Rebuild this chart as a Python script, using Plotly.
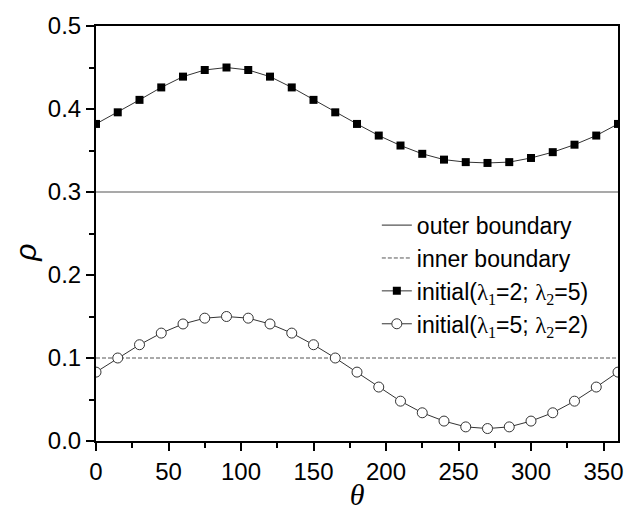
import plotly.graph_objects as go

theta = list(range(0, 361, 15))
p_init_25 = [0.382, 0.396, 0.411, 0.426, 0.439, 0.447, 0.450, 0.447, 0.439, 0.426, 0.411, 0.396, 0.382,
             0.368, 0.356, 0.346, 0.339, 0.336, 0.335, 0.336, 0.341, 0.348, 0.357, 0.368, 0.382]
p_init_52 = [0.083, 0.100, 0.116, 0.130, 0.141, 0.148, 0.150, 0.148, 0.141, 0.130, 0.116, 0.100, 0.083,
             0.065, 0.048, 0.034, 0.024, 0.017, 0.015, 0.017, 0.024, 0.034, 0.048, 0.065, 0.083]
boundary_x = [0, 360]
outer_p = [0.3, 0.3]
inner_p = [0.1, 0.1]
x_ticks = list(range(0, 351, 50))
y_ticks = [0, 0.1, 0.2, 0.3, 0.4, 0.5]
y_ticktext = ["0.0", "0.1", "0.2", "0.3", "0.4", "0.5"]

lam = "<span style='font-family:\"Liberation Serif\"'>λ</span>"
sub = lambda s: "<sub><span style='font-family:\"Liberation Serif\"'>%s</span></sub>" % s

fig = go.Figure()
fig.add_trace(go.Scatter(x=boundary_x, y=outer_p, mode="lines", name="outer boundary",
                         line=dict(color="#555555", width=1.2)))
fig.add_trace(go.Scatter(x=boundary_x, y=inner_p, mode="lines", name="inner boundary",
                         line=dict(color="#555555", width=1, dash="4px,2px")))
fig.add_trace(go.Scatter(x=theta, y=p_init_25, mode="lines+markers",
                         name="initial(" + lam + sub("1") + "=2; " + lam + sub("2") + "=5)",
                         line=dict(color="#333333", width=1),
                         marker=dict(symbol="square", size=8, color="black", line=dict(width=0))))
fig.add_trace(go.Scatter(x=theta, y=p_init_52, mode="lines+markers",
                         name="initial(" + lam + sub("1") + "=5; " + lam + sub("2") + "=2)",
                         line=dict(color="#333333", width=1),
                         marker=dict(symbol="circle", size=10, color="white",
                                     line=dict(color="#333333", width=1))))

fig.update_layout(
    width=636, height=518,
    margin=dict(l=96, r=18, t=18, b=75),
    paper_bgcolor="white", plot_bgcolor="white",
    font=dict(family="Liberation Sans, Arial", color="black"),
    showlegend=True,
    legend=dict(x=0.538, y=0.572, xanchor="left", yanchor="top",
                bgcolor="rgba(0,0,0,0)", borderwidth=0,
                font=dict(size=23, family="Liberation Sans, Arial", color="black"),
                tracegroupgap=0, itemwidth=30),
    annotations=[dict(text="<i>ρ</i>", xref="paper", yref="paper", x=-0.134, y=0.454,
                      xanchor="center", yanchor="middle",
                      showarrow=False, textangle=-90, font=dict(size=30, family="Liberation Sans"))],
)
fig.update_xaxes(range=[0, 360], tickvals=x_ticks,
                 showline=True, linecolor="black", linewidth=2, mirror=True,
                 ticks="outside", ticklen=8, tickwidth=1.5, tickcolor="black",
                 minor=dict(tickvals=list(range(25, 360, 50)), ticks="outside", ticklen=5, tickcolor="black", tickwidth=1.5),
                 showgrid=False, zeroline=False,
                 tickfont=dict(size=24),
                 title=dict(text="<i>θ</i>", font=dict(family="Liberation Serif", size=30), standoff=0))
fig.update_yaxes(range=[0, 0.5], tickvals=y_ticks, ticktext=y_ticktext,
                 showline=True, linecolor="black", linewidth=2, mirror=True,
                 ticks="outside", ticklen=8, tickwidth=1.5, tickcolor="black",
                 minor=dict(tickvals=[0.05, 0.15, 0.25, 0.35, 0.45], ticks="outside", ticklen=5, tickcolor="black", tickwidth=1.5),
                 showgrid=False, zeroline=False,
                 tickfont=dict(size=24))

fig.write_html("out.html")
